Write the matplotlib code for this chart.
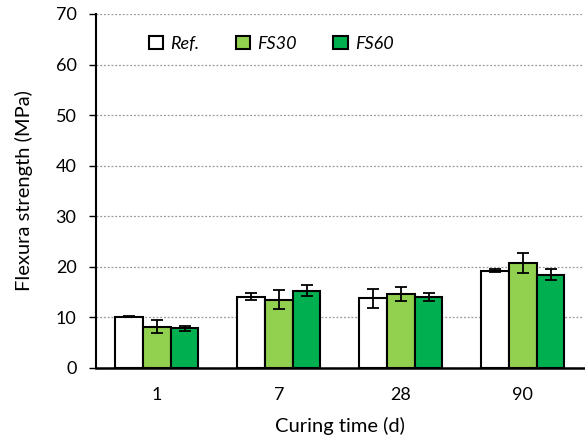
import numpy as np
import matplotlib
matplotlib.use("Agg")
import matplotlib.pyplot as plt

# curing time categories and flexural strength (MPa)
categories = ["1", "7", "28", "90"]
series = ["Ref.", "FS30", "FS60"]
ref_vals = [10.1, 14.1, 13.8, 19.2]
fs30_vals = [8.2, 13.5, 14.7, 20.8]
fs60_vals = [7.9, 15.3, 14.1, 18.4]
ref_err = [0.1, 0.7, 1.85, 0.3]
fs30_err = [1.3, 1.9, 1.4, 2.0]
fs60_err = [0.5, 1.1, 0.8, 1.1]

colors = ["white", "#92D050", "#00B050"]

plt.rcParams["font.family"] = ["Lato", "DejaVu Sans"]

fig = plt.figure(figsize=(5.85, 4.36), dpi=100)
ax = fig.add_axes([0.164, 0.156, 0.834, 0.812])

x = np.arange(len(categories))
w = 0.227
vals = [ref_vals, fs30_vals, fs60_vals]
errs = [ref_err, fs30_err, fs60_err]
for i in range(3):
    ax.bar(x + (i - 1) * w, vals[i], w, color=colors[i], edgecolor="black",
           linewidth=1.5, label=series[i], zorder=3,
           yerr=errs[i], capsize=4.5,
           error_kw=dict(elinewidth=1.3, capthick=1.3, ecolor="black", zorder=4))

ax.set_xlim(-0.5, 3.5)
ax.set_ylim(0, 70)
ax.set_yticks(range(0, 71, 10))
ax.set_xticks(x)
ax.set_xticklabels(categories)
ax.tick_params(axis="x", length=0, labelsize=13, pad=14)
ax.tick_params(axis="y", direction="out", length=5, width=1, labelsize=13, pad=9)
ax.yaxis.grid(True, linestyle=(0, (1.5, 1.5)), color="#999999", linewidth=0.9, zorder=0)
ax.spines["top"].set_visible(False)
ax.spines["right"].set_visible(False)
ax.spines["left"].set_linewidth(1.5)
ax.spines["bottom"].set_linewidth(1.8)

ax.set_xlabel("Curing time (d)", fontsize=14.5, labelpad=10)
ax.set_ylabel("Flexura strength (MPa)", fontsize=14.5, labelpad=16)

leg = ax.legend(loc="upper left", bbox_to_anchor=(0.075, 0.985), ncol=3, frameon=False,
                prop=dict(style="italic", size=13), handlelength=0.8, handleheight=0.8,
                handletextpad=0.4, columnspacing=2.0)

fig.savefig("out.png", dpi=100)
